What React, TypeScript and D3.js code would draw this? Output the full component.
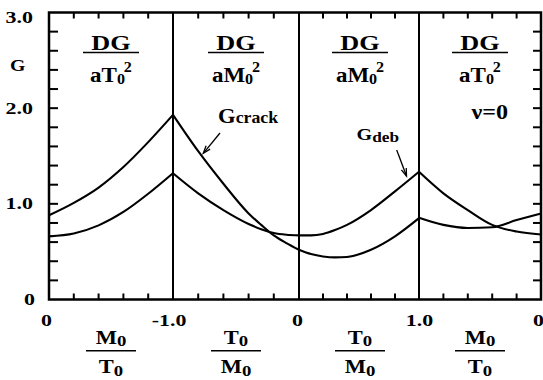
import React from 'react';
import * as d3 from 'd3';

const W = 543;
const H = 380;

// Four panels; each runs its ratio from the first to the second value.
const segmentRange: [number, number][] = [[0, -1], [-1, 0], [0, 1], [1, 0]];
const boundaryLabels = ['0', '-1.0', '0', '1.0', '0'];
const topDenLetter = ['T', 'M', 'M', 'T'];
const bottomNum = ['M', 'T', 'T', 'M'];
const bottomDen = ['T', 'M', 'M', 'T'];

// Panel 1: M0/T0 from 0 to -1
const ratio1 = [0, -0.2, -0.4, -0.6, -0.8, -1.0];
const crack1 = [0.88, 1.01, 1.17, 1.385, 1.645, 1.93];
const deb1 = [0.66, 0.69, 0.775, 0.915, 1.105, 1.32];

// Panel 2: T0/M0 from -1 to 0
const ratio2 = [-1, -0.8, -0.6, -0.4, -0.3, -0.2, -0.1, 0];
const crack2 = [1.93, 1.55, 1.21, 0.9, 0.78, 0.67, 0.59, 0.52];
const deb2 = [1.32, 1.11, 0.935, 0.79, 0.735, 0.695, 0.677, 0.67];

// Panel 3: T0/M0 from 0 to 1
const ratio3 = [0, 0.1, 0.2, 0.3, 0.4, 0.6, 0.8, 1.0];
const crack3 = [0.52, 0.475, 0.45, 0.44, 0.445, 0.52, 0.66, 0.85];
const deb3 = [0.67, 0.67, 0.685, 0.726, 0.78, 0.935, 1.13, 1.335];

// Panel 4: M0/T0 from 1 to 0
const ratio4 = [1, 0.8, 0.6, 0.4, 0.2, 0];
const crack4 = [0.855, 0.78, 0.748, 0.755, 0.83, 0.9];
const deb4 = [1.335, 1.11, 0.935, 0.78, 0.71, 0.68];

const panelRatios = [ratio1, ratio2, ratio3, ratio4];
const crackSeries = [crack1, crack2, crack3, crack4];
const debSeries = [deb1, deb2, deb3, deb4];

const yTickValues = [0, 1, 2, 3];
const yTickLabels = ['0', '1.0', '2.0', '3.0'];

const FONT = "'Liberation Serif', 'Times New Roman', serif";

const x = d3.scaleLinear().domain([0, 1, 2, 3, 4]).range([49, 173, 299, 419, 541]);
const y = d3.scaleLinear().domain([0, 3]).range([299.5, 12.5]);

const toU = (k: number, r: number) => {
  const [a, b] = segmentRange[k];
  return k + (r - a) / (b - a);
};

const line = d3
  .line<[number, number]>()
  .x((d) => x(d[0]))
  .y((d) => y(d[1]))
  .curve(d3.curveMonotoneX);

function Txt(props: {
  x: number;
  y: number;
  size: number;
  sx?: number;
  anchor?: string;
  children: React.ReactNode;
}) {
  const { sx = 1, anchor = 'start' } = props;
  return (
    <text
      transform={`translate(${props.x},${props.y}) scale(${sx},1)`}
      fontSize={props.size}
      textAnchor={anchor}
      fontFamily={FONT}
      fontWeight="bold"
      fill="#000"
    >
      {props.children}
    </text>
  );
}

function Arrow({ x1, y1, x2, y2 }: { x1: number; y1: number; x2: number; y2: number }) {
  const ang = Math.atan2(y2 - y1, x2 - x1);
  const len = 8;
  const spread = 0.33;
  const p1 = [x2 - len * Math.cos(ang - spread), y2 - len * Math.sin(ang - spread)];
  const p2 = [x2 - len * Math.cos(ang + spread), y2 - len * Math.sin(ang + spread)];
  return (
    <g stroke="#000" strokeWidth={1.3} fill="none">
      <line x1={x1} y1={y1} x2={x2} y2={y2} />
      <polyline points={`${p1[0]},${p1[1]} ${x2},${y2} ${p2[0]},${p2[1]}`} />
    </g>
  );
}

export default function App() {
  const left = x(0);
  const right = x(4);
  const top = y(3);
  const bottom = y(0);

  const xMinor: number[] = [];
  for (let k = 0; k < 4; k++) {
    for (let j = 1; j < 5; j++) xMinor.push(k + j / 5);
  }
  const yMinor: number[] = [];
  for (let j = 1; j < 15; j++) yMinor.push(j / 5);

  return (
    <svg
      width={W}
      height={H}
      style={{ position: 'absolute', left: 0, top: 0, display: 'block', background: '#fff' }}
    >
      <rect x={0} y={0} width={W} height={H} fill="#fff" />

      {/* panel dividers */}
      {[1, 2, 3].map((u) => (
        <line key={u} x1={x(u)} x2={x(u)} y1={top} y2={bottom} stroke="#000" strokeWidth={2} />
      ))}

      {/* minor ticks */}
      <g stroke="#000" strokeWidth={2}>
        {xMinor.map((u, i) => (
          <g key={'xt' + i}>
            <line x1={x(u)} x2={x(u)} y1={top} y2={top + 6} />
            <line x1={x(u)} x2={x(u)} y1={bottom} y2={bottom - 6} />
          </g>
        ))}
        {yMinor.map((v, i) => (
          <g key={'yt' + i}>
            <line x1={left} x2={left + 9} y1={y(v)} y2={y(v)} />
            <line x1={right} x2={right - 8} y1={y(v)} y2={y(v)} />
          </g>
        ))}
      </g>

      {/* curves */}
      <g fill="none" stroke="#000" strokeWidth={2.1} strokeLinejoin="round">
        {panelRatios.map((rs, k) => (
          <g key={'c' + k}>
            <path d={line(rs.map((r, i) => [toU(k, r), crackSeries[k][i]] as [number, number])) || ''} />
            <path d={line(rs.map((r, i) => [toU(k, r), debSeries[k][i]] as [number, number])) || ''} />
          </g>
        ))}
      </g>

      {/* frame */}
      <rect
        x={left}
        y={top}
        width={right - left}
        height={bottom - top}
        fill="none"
        stroke="#000"
        strokeWidth={2.5}
      />

      {/* y axis labels */}
      {yTickValues.map((v, i) => (
        <Txt key={'yl' + i} x={v === 0 ? 35 : 33} y={y(v) + (v === 3 ? 10.5 : 5.5)} size={16.5} sx={1.33} anchor="end">
          {yTickLabels[i]}
        </Txt>
      ))}
      <Txt x={10} y={70.7} size={16.5} sx={1.2}>
        G
      </Txt>

      {/* x boundary labels */}
      {boundaryLabels.map((t, i) => (
        <Txt
          key={'xl' + i}
          x={x(i) + (i === 0 ? -2.5 : i === 1 ? -4 : i === 2 ? -1.5 : i === 4 ? -2.5 : 0.5)}
          y={326}
          size={16.5}
          sx={1.33}
          anchor="middle"
        >
          {t}
        </Txt>
      ))}

      {/* panel quantity labels */}
      {segmentRange.map((_, k) => {
        const cx = (x(k) + x(k + 1)) / 2 + (k === 2 ? 1 : 0);
        return (
          <g key={'pl' + k}>
            <Txt x={cx} y={50} size={20.5} sx={1.28} anchor="middle">
              DG
            </Txt>
            <line x1={cx - 28} x2={cx + 28} y1={52.5} y2={52.5} stroke="#000" strokeWidth={1.5} />
            <Txt x={cx} y={81.7} size={20} sx={1.15} anchor="middle">
              {'a' + topDenLetter[k]}
              <tspan fontSize={14} dy={2}>
                0
              </tspan>
              <tspan fontSize={14} dx={-1} dy={-11.5}>
                2
              </tspan>
            </Txt>

            <Txt x={cx} y={344} size={18} sx={1.25} anchor="middle">
              {bottomNum[k]}
              <tspan fontSize={15} dy={1.5}>
                0
              </tspan>
            </Txt>
            <line x1={cx - 25} x2={cx + 25} y1={350.7} y2={350.7} stroke="#000" strokeWidth={1.5} />
            <Txt x={cx} y={373} size={18} sx={1.25} anchor="middle">
              {bottomDen[k]}
              <tspan fontSize={15} dy={3}>
                0
              </tspan>
            </Txt>
          </g>
        );
      })}

      {/* curve annotations */}
      <Txt x={218} y={122.7} size={21} sx={1.08}>
        G
        <tspan fontSize={16.5}>crack</tspan>
      </Txt>
      <Arrow x1={220} y1={133} x2={203.3} y2={153.3} />

      <Txt x={356.5} y={140} size={17.5} sx={1.15}>
        G
        <tspan fontSize={15} dy={1.5}>
          deb
        </tspan>
      </Txt>
      <Arrow x1={396.7} y1={150} x2={406.5} y2={176} />

      <Txt x={471.5} y={119} size={21} sx={1.15}>
        ν=0
      </Txt>
    </svg>
  );
}
